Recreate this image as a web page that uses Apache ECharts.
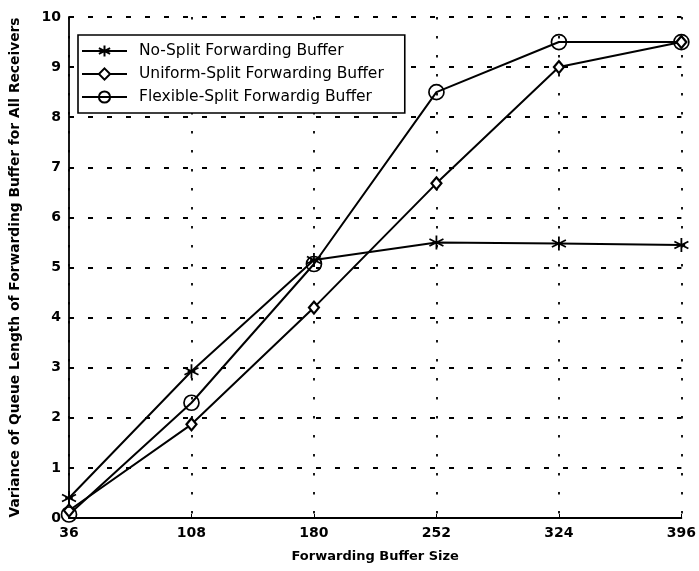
<!DOCTYPE html>
<html>
<head>
<meta charset="utf-8">
<script src="https://cdn.jsdelivr.net/npm/echarts@6/dist/echarts.min.js"></script>
<style>html,body{margin:0;padding:0;background:#fff}#c{width:699px;height:571px}</style>
</head>
<body>
<div id="c"></div>
<script>
const bufferSizes = [36, 108, 180, 252, 324, 396];
const noSplit = [0.4, 2.93, 5.15, 5.5, 5.48, 5.45];
const uniformSplit = [0.15, 1.87, 4.2, 6.68, 9.0, 9.5];
const flexibleSplit = [0.07, 2.3, 5.07, 8.5, 9.5, 9.5];
const seriesNames = ['No-Split Forwarding Buffer', 'Uniform-Split Forwarding Buffer', 'Flexible-Split Forwardig Buffer'];
const yTicks = [0, 1, 2, 3, 4, 5, 6, 7, 8, 9, 10];

const starPath = 'path://M0,-10L0,10M-9,-5L9,5M-9,5L9,-5M-5,0L5,0';
const font = 'DejaVu Sans';

function pairs(vals) { return bufferSizes.map((x, i) => [x, vals[i]]); }

const chart = echarts.init(document.getElementById('c'));
const lineStyle = { color: '#000', width: 2 };
chart.setOption({
  animation: false,
  backgroundColor: '#fff',
  grid: { left: 66, right: 9, top: 17, bottom: 53 },
  legend: {
    left: 78, top: 35, orient: 'vertical',
    backgroundColor: '#fff', borderColor: '#000', borderWidth: 1.6, borderRadius: 0,
    padding: [8, 21, 8, 3],
    itemWidth: 45, itemHeight: 14, itemGap: 7,
    textStyle: { fontFamily: font, fontSize: 15.5, lineHeight: 16, color: '#000', padding: [0, 0, 0, 7] },
    data: seriesNames
  },
  xAxis: {
    type: 'value', min: 36, max: 396, interval: 72,
    name: 'Forwarding Buffer Size', nameLocation: 'middle', nameGap: 32,
    nameTextStyle: { fontFamily: font, fontSize: 13, fontWeight: 'bold', color: '#000' },
    axisLine: { lineStyle: { color: '#000', width: 1.8 } },
    axisTick: { inside: true, length: 4, lineStyle: { color: '#000' } },
    axisLabel: { fontFamily: font, fontSize: 14, fontWeight: 'bold', color: '#000', margin: 8 },
    splitLine: { show: true, lineStyle: { color: '#000', width: 1.8, type: [2.5, 16.5] } }
  },
  yAxis: {
    type: 'value', min: 0, max: 10, interval: 1,
    name: 'Variance of Queue Length of Forwarding Buffer for All Receivers',
    nameLocation: 'middle', nameGap: 47,
    nameTextStyle: { fontFamily: font, fontSize: 13.8, fontWeight: 'bold', color: '#000' },
    axisLine: { show: true, lineStyle: { color: '#000', width: 1.8 } },
    axisTick: { show: true, inside: true, length: 4, lineStyle: { color: '#000' } },
    axisLabel: { fontFamily: font, fontSize: 14, fontWeight: 'bold', color: '#000', margin: 8,
      formatter: v => yTicks.includes(v) ? String(v) : '' },
    splitLine: { show: true, lineStyle: { color: '#000', width: 1.8, type: [5, 14] } }
  },
  series: [
    { name: seriesNames[0], type: 'line', data: pairs(noSplit), symbol: starPath, symbolSize: 14,
      itemStyle: { color: '#000', borderColor: '#000', borderWidth: 1.8 }, lineStyle },
    { name: seriesNames[1], type: 'line', data: pairs(uniformSplit), symbol: 'diamond', symbolSize: [10, 12],
      itemStyle: { color: '#fff', borderColor: '#000', borderWidth: 2.2 }, lineStyle },
    { name: seriesNames[2], type: 'line', data: pairs(flexibleSplit), symbol: 'circle', symbolSize: 15,
      itemStyle: { color: 'rgba(255,255,255,0)', borderColor: '#000', borderWidth: 1.7 }, lineStyle }
  ]
});
</script>
</body>
</html>
